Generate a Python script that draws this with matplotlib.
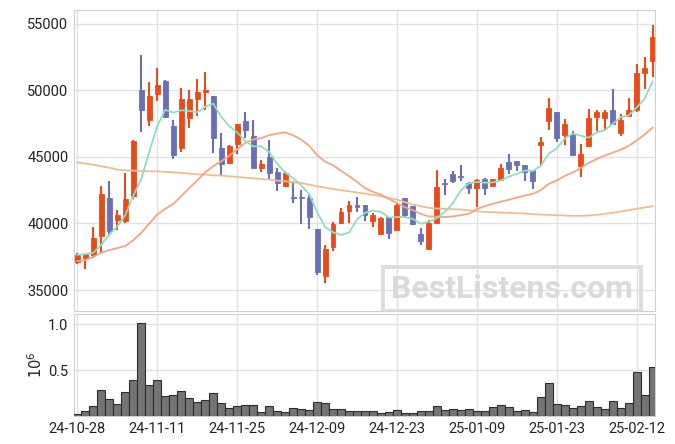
import numpy as np
import pandas as pd
import matplotlib
matplotlib.use("Agg")
import matplotlib.pyplot as plt
from matplotlib.patches import Rectangle

plt.rcParams['font.family'] = ['Roboto', 'DejaVu Sans']

# daily OHLC (73 trading days)
opens = [37100, 37400, 37625, 39050, 41925, 40300, 40175, 42050, 50050, 47800,
         49750, 50725, 47350, 45650, 47900, 49325, 49850, 49600, 45700, 44550,
         45950, 47725, 46575, 44150, 45000, 43875, 42800, 42025, 42025, 41925,
         39600, 36050, 38225, 40050, 40925, 41425, 41425, 40175, 39225, 40500,
         39500, 41925, 41325, 39225, 38100, 40000, 43050, 43725, 43550, 43050,
         42675, 43350, 42800, 43300, 44625, 44675, 44375, 44050, 45875, 47675,
         48400, 46625, 46675, 44300, 45800, 47975, 47900, 48550, 46800, 48100,
         48500, 51300, 52250]
highs = [37800, 37725, 39750, 42850, 43200, 41000, 43800, 46300, 52675, 50625,
         51675, 50775, 47800, 50175, 50025, 50850, 51375, 49600, 46800, 45925,
         47475, 48350, 47800, 44750, 46250, 44150, 43925, 43175, 42500, 42175,
         39600, 38375, 40125, 41150, 41675, 41975, 41425, 40800, 40500, 40500,
         41550, 41925, 41325, 39650, 40300, 44000, 43350, 43925, 44375, 43100,
         43350, 43425, 43350, 44500, 45250, 44675, 44375, 44050, 46500, 49425,
         48400, 47850, 46925, 46000, 48600, 48550, 48550, 50100, 48200, 49425,
         51975, 52500, 54950]
lows = [36975, 36600, 37425, 37800, 39050, 39475, 40000, 41850, 46850, 47300,
        49225, 47975, 44850, 45350, 47150, 48050, 48500, 45300, 43650, 44450,
        45250, 46400, 44150, 43900, 43350, 42450, 42800, 41550, 39925, 39550,
        36100, 35550, 37925, 39925, 40000, 40875, 40175, 39750, 39225, 38850,
        39500, 40425, 39850, 38375, 38100, 40000, 42175, 43050, 43175, 42225,
        41250, 42175, 42800, 43300, 43750, 43925, 43225, 42600, 44425, 47050,
        46150, 45925, 45050, 43500, 45800, 46925, 47050, 47500, 46550, 48050,
        48350, 50100, 51050]
closes = [37600, 37675, 38875, 42250, 39425, 40675, 41875, 46225, 48500, 49600,
          50425, 47975, 45175, 49375, 49375, 49900, 50050, 46400, 44450, 45850,
          47475, 47025, 44150, 44500, 43775, 43050, 43800, 41900, 41900, 40475,
          36350, 38050, 39925, 40875, 41400, 41225, 40625, 40675, 40425, 39300,
          41400, 40625, 39925, 38675, 40050, 42750, 43000, 43175, 43500, 42675,
          43275, 42675, 43350, 44175, 44125, 44375, 43875, 43175, 46150, 48675,
          46400, 47500, 45175, 45250, 47925, 48375, 48375, 47500, 47800, 48550,
          51350, 51675, 54000]
# volume in millions of shares
volumes = [0.022, 0.058, 0.109, 0.283, 0.185, 0.130, 0.261, 0.391, 1.011, 0.337,
           0.391, 0.217, 0.228, 0.272, 0.196, 0.156, 0.174, 0.250, 0.141, 0.087,
           0.109, 0.120, 0.120, 0.043, 0.109, 0.054, 0.043, 0.087, 0.076, 0.065,
           0.152, 0.141, 0.076, 0.076, 0.054, 0.054, 0.054, 0.054, 0.033, 0.043,
           0.065, 0.033, 0.033, 0.054, 0.054, 0.109, 0.065, 0.076, 0.065, 0.076,
           0.054, 0.054, 0.098, 0.120, 0.098, 0.054, 0.065, 0.043, 0.207, 0.359,
           0.130, 0.120, 0.087, 0.109, 0.163, 0.098, 0.076, 0.163, 0.087, 0.141,
           0.478, 0.228, 0.533]

# moving-average values before enough visible days exist
ma5_head = [37650, 37700, 37800, 38400]
ma20_head = [37175, 37250, 37500, 37800, 38000, 38150, 38300, 38750, 39300, 40000,
             40675, 41100, 41475, 42050, 42675, 43225, 43850, 44300, 44675]
# long moving average (longer history than shown)
ma_long = [44600, 44500, 44425, 44300, 44200, 44050, 44000, 43975, 43950, 43925,
           43925, 43875, 43850, 43800, 43750, 43700, 43675, 43625, 43600, 43550,
           43500, 43450, 43400, 43350, 43300, 43225, 43175, 43100, 43050, 42925,
           42800, 42700, 42600, 42500, 42425, 42325, 42250, 42150, 42050, 41925,
           41800, 41600, 41425, 41300, 41175, 41125, 41100, 41075, 41050, 41000,
           40925, 40875, 40850, 40825, 40800, 40775, 40750, 40700, 40675, 40650,
           40625, 40600, 40575, 40575, 40600, 40650, 40725, 40800, 40900, 41000,
           41100, 41200, 41300]

tick_pos = [0, 10, 20, 30, 40, 50, 60, 70]
tick_labels = ['24-10-28', '24-11-11', '24-11-25', '24-12-09', '24-12-23',
               '25-01-09', '25-01-23', '25-02-12']

up_col = '#e84c1a'
down_col = '#6b6fb4'
grid_col = '#e2e2e2'

df = pd.DataFrame({'o': opens, 'h': highs, 'l': lows, 'c': closes, 'v': volumes})
x = np.arange(len(df))
ma5 = df['c'].rolling(5).mean().to_numpy()
ma5[:len(ma5_head)] = ma5_head
ma20 = df['c'].rolling(20).mean().to_numpy()
ma20[:len(ma20_head)] = ma20_head

fig = plt.figure(figsize=(6.75, 4.44), dpi=100)
ax = fig.add_axes([0.1096, 0.2995, 0.8608, 0.678])
axv = fig.add_axes([0.1096, 0.0624, 0.8608, 0.2304], sharex=ax)

for a in (ax, axv):
    a.set_axisbelow(True)
    a.grid(True, color=grid_col, lw=1)
    a.tick_params(length=0, labelsize=10.5, colors='#222222', pad=4)
    for s in a.spines.values():
        s.set_color('#d0d0d0')

up = df['c'] >= df['o']
cols = np.where(up, up_col, down_col)
body_lo = np.minimum(df['o'], df['c'])
body_h = np.maximum(np.abs(df['c'] - df['o']), 80)

ax.vlines(x, df['l'], df['h'], colors=cols, lw=1.5, zorder=2)
ax.bar(x, body_h, bottom=body_lo, width=0.62, color=cols, edgecolor=cols, lw=0.6, zorder=3)

ax.plot(x, ma_long, color='#f2bc90', lw=1.3, zorder=4)
ax.plot(x, ma20, color='#f0a787', lw=1.3, zorder=4)
ax.plot(x, ma5, color='#92dcc0', lw=1.3, zorder=4)

ax.set_ylim(33420, 56050)
ax.set_yticks([35000, 40000, 45000, 50000, 55000])
ax.tick_params(axis='x', labelbottom=False)

# watermark
ax.add_patch(Rectangle((0.532, 0.0), 0.444, 0.146, transform=ax.transAxes,
                       fill=False, ec='#dedede', lw=2.8, zorder=1))
ax.text(0.754, 0.073, 'BestListens.com', transform=ax.transAxes, ha='center', va='center',
        fontsize=23, fontweight='bold', color='#dadada', zorder=1)

axv.bar(x, df['v'], width=1.0, color='#747474', edgecolor='#2e2e2e', lw=0.8, zorder=3)
axv.set_ylim(0, 1.11)
axv.set_yticks([0.5, 1.0])
axv.set_ylabel(r'$10^6$', fontsize=10.5, color='#222222', labelpad=2)
axv.set_xticks(tick_pos)
axv.set_xticklabels(tick_labels)
axv.set_xlim(-0.42, 72.3)

fig.savefig('out.png', dpi=100)
